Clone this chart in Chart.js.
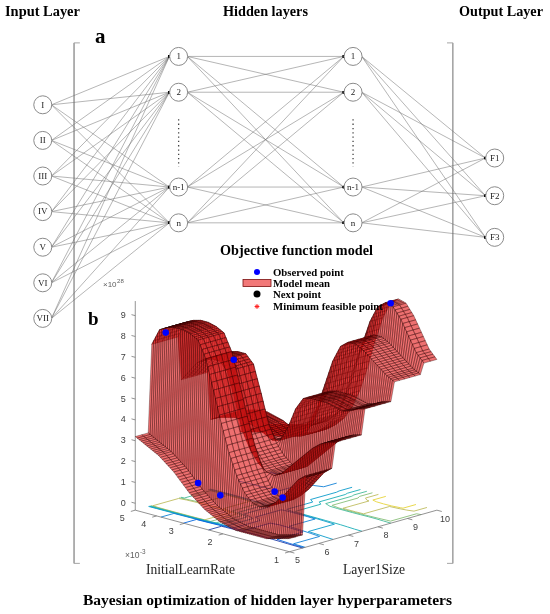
<!DOCTYPE html>
<html>
<head>
<meta charset="utf-8">
<script src="https://cdn.jsdelivr.net/npm/chart.js@4.4.1/dist/chart.umd.min.js"></script>
<style>
  html, body { margin: 0; padding: 0; background: #fff; }
  canvas { display: block; }
</style>
</head>
<body>
<canvas id="fig" width="550" height="614" style="width:550px;height:614px"></canvas>
<script>
// ---------- network (panel a) ----------
const inputLabels = ['I', 'II', 'III', 'IV', 'V', 'VI', 'VII'];
const hiddenLabels = ['1', '2', 'n-1', 'n'];
const outputLabels = ['F1', 'F2', 'F3'];

// ---------- objective function model (panel b) ----------
// InitialLearnRate grid, x1e-3 (log spaced, as plotted)
const learnRate = [5.000, 4.613, 4.257, 3.928, 3.624, 3.344, 3.085, 2.847, 2.627, 2.423, 2.236,
                   2.063, 1.904, 1.756, 1.621, 1.495, 1.380, 1.273, 1.175, 1.084, 1.000];
const layerSizes = [5, 6, 7, 8, 9, 10];
// model mean (x1e28) along the learn rate grid, one row per Layer1Size
const meanSize5  = [3.2, 3.0, 2.8, 2.6, 2.3, 2.0, 1.6, 1.2, 0.9, 0.6, 0.4, 0.2, 0.1, 0.0, 0.0, 0.0, 0.0, 0.0, 0.1, 0.2, 0.3];
const meanSize6  = [7.4, 8.2, 8.4, 8.5, 8.5, 8.4, 8.2, 7.4, 6.0, 4.5, 3.2, 2.2, 1.5, 1.1, 1.0, 1.1, 1.4, 1.8, 2.3, 2.8, 3.1];
const meanSize7  = [5.3, 5.8, 6.3, 6.6, 6.7, 6.7, 6.3, 5.0, 3.6, 2.8, 2.3, 2.0, 1.9, 2.1, 2.5, 2.9, 3.3, 3.7, 4.0, 4.2, 4.3];
const meanSize8  = [3.0, 3.2, 3.3, 3.4, 3.4, 3.3, 3.2, 3.0, 2.8, 2.9, 3.6, 4.6, 5.2, 5.3, 5.3, 5.3, 5.2, 5.1, 5.2, 5.4, 5.5];
const meanSize9  = [2.0, 2.1, 2.2, 2.3, 2.4, 2.5, 2.6, 2.8, 3.0, 3.4, 4.2, 5.4, 6.6, 7.4, 7.7, 7.7, 7.5, 7.2, 6.9, 6.6, 6.4];
const meanSize10 = [1.5, 1.5, 1.6, 1.7, 1.8, 2.0, 2.2, 2.5, 2.9, 3.5, 4.4, 5.6, 7.0, 8.2, 9.0, 9.3, 9.2, 8.7, 8.0, 7.3, 6.9];
// observed points
const obsLearnRate = [4.95, 3.31, 1.62, 3.53, 2.80, 2.16, 1.46];
const obsLayerSize = [6, 7, 10, 6, 6, 7, 6];
const obsValue     = [7.8, 6.6, 9.0, 1.0, 0.7, 0.8, 1.4];
// axes
const zTicks = [0, 1, 2, 3, 4, 5, 6, 7, 8, 9];
const lrTicks = [1, 2, 3, 4, 5];
const sizeTicks = [5, 6, 7, 8, 9, 10];
const contourLevels = [0.5, 1.5, 2.5, 3.5, 4.5, 5.5, 6.5, 7.5, 8.5];

// ---------- layout ----------
const net = { col: [34, 175, 356, 503], inputTop: 98, inputStep: 36.8,
              hiddenRows: [48, 85, 183, 220], outputRows: [153, 192, 235],
              r: 9, dotsFrom: 113, dotsTo: 162 };
const frame = { left: 66.5, right: 459.5, top: 34, bottom: 572, tick: 6 };
// 3-D view: floor origin at (lr=5e-3, size=5), unit vectors for each axis
const view = { ox: 130, oy: 517, ux: 160, uy: 43, vx: 153, vy: -43, zPx: 21.55, zBase: -0.33, zTop: 9.7 };
const lrMin = 1, lrMax = 5, sizeMin = 5, sizeMax = 10;
// mesh: u subdivisions per grid step, target tread cell width, width of each integer step ramp
const mesh = { uDiv: 4, vCell: 0.18, ramp: 0.12 };

function uOf(lr) { return Math.log(lrMax / lr) / Math.log(lrMax / lrMin); }
function vOf(size) { return (size - sizeMin) / (sizeMax - sizeMin); }
function project(lr, size, z) {
  const u = uOf(lr), v = vOf(size);
  return { x: view.ox + u * view.ux + v * view.vx,
           y: view.oy + u * view.uy + v * view.vy - (z - view.zBase) * view.zPx };
}

const datasets = [];
function addLine(points, opts, order) {
  datasets.push(Object.assign({ data: points, showLine: true, pointRadius: 0, borderWidth: 1,
    borderColor: '#888', fill: false, tension: 0, order: order }, opts));
}

// ---- network nodes and edges ----
const layers = [
  inputLabels.map((t, i) => ({ x: net.col[0], y: net.inputTop + i * net.inputStep, label: t })),
  hiddenLabels.map((t, i) => ({ x: net.col[1], y: net.hiddenRows[i], label: t })),
  hiddenLabels.map((t, i) => ({ x: net.col[2], y: net.hiddenRows[i], label: t })),
  outputLabels.map((t, i) => ({ x: net.col[3], y: net.outputRows[i], label: t }))
];
for (let l = 0; l < layers.length - 1; l++) {
  layers[l].forEach(a => layers[l + 1].forEach(b => {
    addLine([{ x: a.x + net.r, y: a.y }, { x: b.x - net.r - 0.6, y: b.y }], {
      borderColor: 'rgba(110,110,110,0.85)', borderWidth: 0.6,
      pointRadius: [0, 1.6], pointStyle: 'rect',
      pointBackgroundColor: '#000', pointBorderColor: '#000', pointBorderWidth: 0
    }, 9000);
  }));
}
[net.col[1], net.col[2]].forEach(x => {
  addLine([{ x: x, y: net.dotsFrom }, { x: x, y: net.dotsTo }],
    { borderColor: '#444', borderWidth: 1.3, borderDash: [1.3, 3] }, 9000);
});
const allNodes = layers.flat();
datasets.push({ data: allNodes.map(n => ({ x: n.x, y: n.y })), showLine: false, pointRadius: net.r,
  pointStyle: 'circle', pointBackgroundColor: '#fff', pointBorderColor: '#8a8a8a', pointBorderWidth: 1, order: 3 });

// bracket frame
addLine([{ x: frame.left + frame.tick, y: frame.top }, { x: frame.left, y: frame.top },
         { x: frame.left, y: frame.bottom }, { x: frame.left + frame.tick, y: frame.bottom }],
        { borderColor: '#a5a5a5', borderWidth: 1 }, 9500);
addLine([{ x: frame.right - frame.tick, y: frame.top }, { x: frame.right, y: frame.top },
         { x: frame.right, y: frame.bottom }, { x: frame.right - frame.tick, y: frame.bottom }],
        { borderColor: '#a5a5a5', borderWidth: 1 }, 9500);

// ---- 3-D axes ----
const axisStyle = { borderColor: '#777', borderWidth: 0.8 };
addLine([project(lrMax, sizeMin, view.zBase), project(lrMax, sizeMin, view.zTop)], axisStyle, 8000);
addLine([project(lrMax, sizeMin, view.zBase), project(lrMin, sizeMin, view.zBase)], axisStyle, 8000);
addLine([project(lrMin, sizeMin, view.zBase), project(lrMin, sizeMax, view.zBase)], axisStyle, 8000);
zTicks.forEach(z => addLine([project(lrMax, sizeMin, z), project(lrMax * 1.04, sizeMin, z)], axisStyle, 8000));
lrTicks.forEach(t => addLine([project(t, sizeMin, view.zBase), project(t, sizeMin - 0.15, view.zBase)], axisStyle, 8000));
sizeTicks.forEach(s => addLine([project(lrMin, s, view.zBase), project(lrMin * 0.95, s, view.zBase)], axisStyle, 8000));

// ---- surface grid: flat treads per Layer1Size joined by short ramps ----
const meanBySize = [meanSize5, meanSize6, meanSize7, meanSize8, meanSize9, meanSize10];
const rows = [];
layerSizes.forEach((s, k) => {
  const a = k === 0 ? sizeMin : s - 0.5 + mesh.ramp / 2;
  const b = k === layerSizes.length - 1 ? sizeMax : s + 0.5 - mesh.ramp / 2;
  rows.push({ size: a, z: meanBySize[k] });
  rows.push({ size: b, z: meanBySize[k] });
});
function lrAt(i, t) { return learnRate[i] * Math.pow(learnRate[i + 1] / learnRate[i], t); }
function zAt(z, i, t) { return z[i] + (z[i + 1] - z[i]) * t; }

const quads = [];
function makeQuad(corners) {
  const pts = corners.map(c => project(c[0], c[1], c[2]));
  pts.push(pts[0]);
  let d = 0;
  corners.forEach(c => { d += uOf(c[0]) - vOf(c[1]); });
  quads.push({ pts: pts, depth: d / corners.length });
}
for (let r = 0; r < rows.length - 1; r++) {
  const A = rows[r], B = rows[r + 1];
  const flat = A.z === B.z;
  const nSub = flat ? Math.max(1, Math.round((B.size - A.size) / mesh.vCell)) : 1;
  for (let i = 0; i < learnRate.length - 1; i++) {
    for (let m = 0; m < mesh.uDiv; m++) {
      const t0 = m / mesh.uDiv, t1 = (m + 1) / mesh.uDiv;
      const l0 = lrAt(i, t0), l1 = lrAt(i, t1);
      const za0 = zAt(A.z, i, t0), za1 = zAt(A.z, i, t1), zb0 = zAt(B.z, i, t0), zb1 = zAt(B.z, i, t1);
      for (let j = 0; j < nSub; j++) {
        const f0 = j / nSub, f1 = (j + 1) / nSub;
        const s0 = A.size + (B.size - A.size) * f0, s1 = A.size + (B.size - A.size) * f1;
        makeQuad([[l0, s0, za0 + (zb0 - za0) * f0], [l1, s0, za1 + (zb1 - za1) * f0],
                  [l1, s1, za1 + (zb1 - za1) * f1], [l0, s1, za0 + (zb0 - za0) * f1]]);
      }
    }
  }
}
quads.sort((p, q) => q.depth - p.depth);
quads.forEach((q, idx) => {
  datasets.push({ data: q.pts, showLine: true, pointRadius: 0, tension: 0, fill: 'shape',
    backgroundColor: 'rgba(226,24,24,0.62)', borderColor: 'rgba(40,0,0,0.7)', borderWidth: 0.5,
    order: 10 + idx });
});

// ---- floor contours (marching squares on the same grid) ----
const parula = [[53, 42, 135], [3, 99, 225], [20, 133, 212], [6, 167, 198],
                [56, 185, 158], [146, 191, 115], [217, 186, 86], [249, 251, 14]];
function levelColor(c) {
  const t = Math.min(1, Math.max(0, c / 9.3)) * (parula.length - 1);
  const i = Math.min(parula.length - 2, Math.floor(t)), f = t - i;
  const m = parula[i].map((v, n) => Math.round(v + (parula[i + 1][n] - v) * f));
  return 'rgb(' + m.join(',') + ')';
}
contourLevels.forEach(c => {
  const pts = [];
  for (let r = 0; r < rows.length - 1; r++) {
    const A = rows[r], B = rows[r + 1];
    for (let i = 0; i < learnRate.length - 1; i++) {
      const cs = [
        { lr: learnRate[i], size: A.size, z: A.z[i] },
        { lr: learnRate[i + 1], size: A.size, z: A.z[i + 1] },
        { lr: learnRate[i + 1], size: B.size, z: B.z[i + 1] },
        { lr: learnRate[i], size: B.size, z: B.z[i] }
      ];
      const hits = [];
      for (let e = 0; e < 4; e++) {
        const p = cs[e], q = cs[(e + 1) % 4];
        if ((p.z > c) !== (q.z > c)) {
          const t = (c - p.z) / (q.z - p.z);
          hits.push(project(p.lr * Math.pow(q.lr / p.lr, t), p.size + (q.size - p.size) * t, view.zBase));
        }
      }
      for (let h = 0; h + 1 < hits.length; h += 2) pts.push(hits[h], hits[h + 1], { x: null, y: null });
    }
  }
  addLine(pts, { borderColor: levelColor(c), borderWidth: 0.9, spanGaps: false }, 8500);
});

// observed points
datasets.push({ data: obsLearnRate.map((lr, i) => project(lr, obsLayerSize[i], obsValue[i])),
  showLine: false, pointRadius: 3.3, pointBackgroundColor: '#0000ff', pointBorderColor: '#0000ff',
  pointBorderWidth: 0, order: 1 });

// ---------- text ----------
const serif = '"Liberation Serif", "Times New Roman", serif';
const sans = '"Liberation Sans", Arial, sans-serif';
function fitSize(ctx, text, width, weight, family) {
  ctx.font = weight + ' 100px ' + family;
  return 100 * width / ctx.measureText(text).width;
}
function supText(ctx, base, sup, x, y, size) {
  ctx.font = size + 'px ' + sans;
  ctx.fillText(base, x, y);
  const w = ctx.measureText(base).width;
  ctx.font = (size * 0.75) + 'px ' + sans;
  ctx.fillText(sup, x + w + 0.5, y - size * 0.45);
}

const textPlugin = {
  id: 'figureText',
  afterDraw(chart) {
    const ctx = chart.ctx, X = chart.scales.x, Y = chart.scales.y;
    const px = p => [X.getPixelForValue(p.x), Y.getPixelForValue(p.y)];
    ctx.save();
    ctx.fillStyle = '#000';
    ctx.textBaseline = 'alphabetic';
    ctx.textAlign = 'left';

    [['Input Layer', 5, 75], ['Hidden layers', 223, 85], ['Output Layer', 459, 84]].forEach(h => {
      const sz = fitSize(ctx, h[0], h[2], 'bold', serif);
      ctx.font = 'bold ' + sz + 'px ' + serif;
      ctx.fillText(h[0], h[1], 15.5);
    });
    ctx.font = 'bold 21px ' + serif;
    ctx.fillText('a', 95, 43);
    ctx.font = 'bold 19px ' + serif;
    ctx.fillText('b', 88, 325);

    // node labels
    ctx.font = '9px ' + serif;
    ctx.fillStyle = '#222';
    ctx.textAlign = 'center';
    ctx.textBaseline = 'middle';
    allNodes.forEach(n => { const [x, y] = px(n); ctx.fillText(n.label, x, y + 0.5); });

    // panel b title and legend
    ctx.fillStyle = '#000';
    ctx.textAlign = 'left';
    ctx.textBaseline = 'alphabetic';
    let sz = fitSize(ctx, 'Objective function model', 153, 'bold', serif);
    ctx.font = 'bold ' + sz + 'px ' + serif;
    ctx.fillText('Objective function model', 220, 254.5);
    sz = fitSize(ctx, 'Minimum feasible point', 110, 'bold', serif);
    ctx.font = 'bold ' + sz + 'px ' + serif;
    const legendRows = [['Observed point', 272], ['Model mean', 283], ['Next point', 294], ['Minimum feasible point', 306.5]];
    legendRows.forEach(r => ctx.fillText(r[0], 273, r[1] + 3.6));
    ctx.fillStyle = '#0000ff';
    ctx.beginPath(); ctx.arc(257, 272, 3, 0, Math.PI * 2); ctx.fill();
    ctx.fillStyle = 'rgb(242,120,120)'; ctx.strokeStyle = '#7a1010'; ctx.lineWidth = 0.8;
    ctx.fillRect(243, 279.5, 28, 7); ctx.strokeRect(243, 279.5, 28, 7);
    ctx.fillStyle = '#000';
    ctx.beginPath(); ctx.arc(257, 294, 3.5, 0, Math.PI * 2); ctx.fill();
    ctx.strokeStyle = '#ff2020'; ctx.lineWidth = 1;
    for (let a = 0; a < 4; a++) {
      const ang = a * Math.PI / 4;
      ctx.beginPath();
      ctx.moveTo(257 - 2.4 * Math.cos(ang), 306.5 - 2.4 * Math.sin(ang));
      ctx.lineTo(257 + 2.4 * Math.cos(ang), 306.5 + 2.4 * Math.sin(ang));
      ctx.stroke();
    }

    // tick labels
    ctx.fillStyle = '#404040';
    ctx.font = '9px ' + sans;
    ctx.textAlign = 'center';
    ctx.textBaseline = 'middle';
    zTicks.forEach(z => { const [x, y] = px(project(lrMax, sizeMin, z)); ctx.fillText(String(z), x - 12, y); });
    lrTicks.forEach(t => { const [x, y] = px(project(t, sizeMin, view.zBase)); ctx.fillText(String(t), x - 13, y + 8.5); });
    sizeTicks.forEach(s => { const [x, y] = px(project(lrMin, s, view.zBase)); ctx.fillText(String(s), x + 8, y + 9); });
    ctx.textAlign = 'left';
    ctx.textBaseline = 'alphabetic';
    ctx.fillStyle = '#606060';
    supText(ctx, '\u00d710', '28', 103, 287, 8);
    supText(ctx, '\u00d710', '-3', 125, 558, 8.5);

    // axis titles
    ctx.fillStyle = '#222';
    sz = fitSize(ctx, 'InitialLearnRate', 89, 'normal', serif);
    ctx.font = sz + 'px ' + serif;
    ctx.fillText('InitialLearnRate', 146, 574);
    const w = ctx.measureText('Layer1Size').width;
    ctx.font = (sz * 62 / w) + 'px ' + serif;
    ctx.fillText('Layer1Size', 343, 574);

    // caption
    ctx.fillStyle = '#000';
    sz = fitSize(ctx, 'Bayesian optimization of hidden layer hyperparameters', 369, 'bold', serif);
    ctx.font = 'bold ' + sz + 'px ' + serif;
    ctx.fillText('Bayesian optimization of hidden layer hyperparameters', 83, 605);
    ctx.restore();
  }
};

new Chart(document.getElementById('fig'), {
  type: 'line',
  data: { datasets: datasets },
  options: {
    responsive: false,
    animation: false,
    events: [],
    layout: { padding: 0 },
    scales: {
      x: { type: 'linear', min: 0, max: 550, display: false },
      y: { type: 'linear', min: 0, max: 614, reverse: true, display: false }
    },
    plugins: { legend: { display: false }, tooltip: { enabled: false } }
  },
  plugins: [textPlugin]
});
</script>
</body>
</html>
